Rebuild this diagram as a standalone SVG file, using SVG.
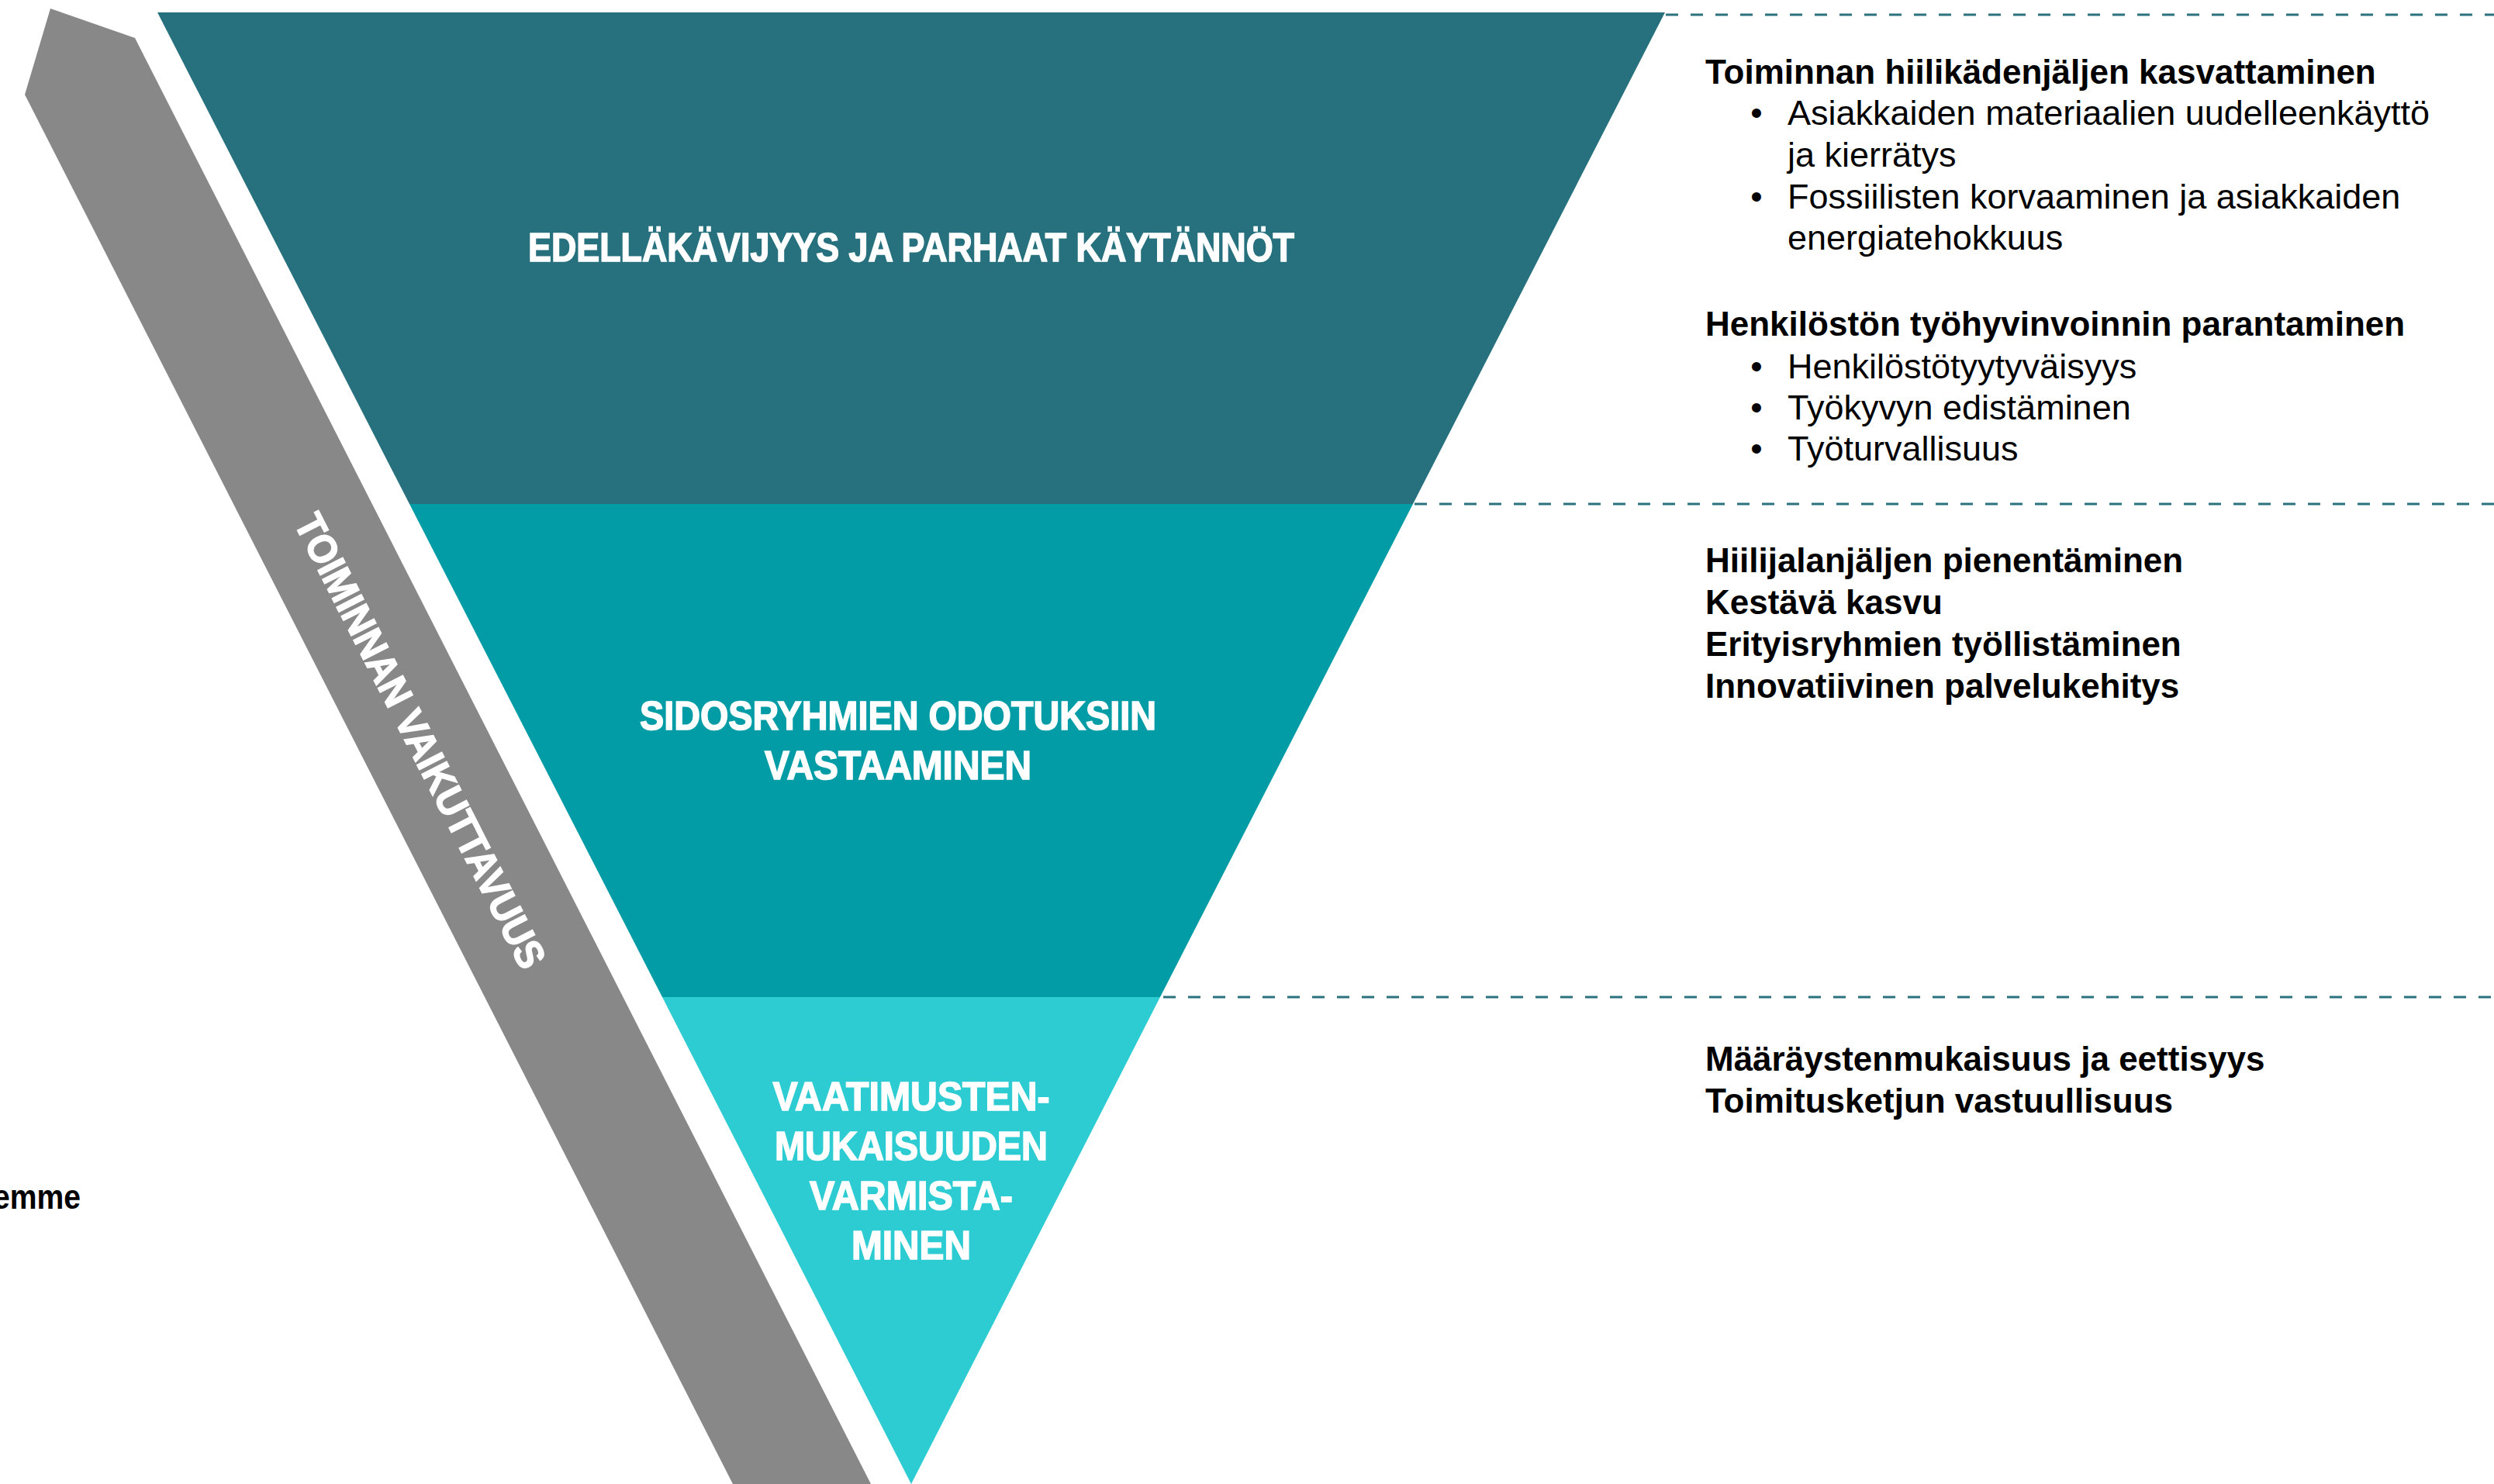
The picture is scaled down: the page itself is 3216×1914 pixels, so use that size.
<svg xmlns="http://www.w3.org/2000/svg" width="3216" height="1914" viewBox="0 0 3216 1914">
<style>
.lbl{font-family:"Liberation Sans",Arial,sans-serif;font-weight:bold;font-size:52px;fill:#ffffff;stroke:#ffffff;stroke-width:1.6;text-anchor:middle}
.hd{font-family:"Liberation Sans",Arial,sans-serif;font-weight:bold;font-size:44px;fill:#000000}
.it{font-family:"Liberation Sans",Arial,sans-serif;font-size:45px;fill:#000000}
.bul{font-family:"Liberation Sans",Arial,sans-serif;font-size:44px;fill:#000000;text-anchor:middle}
.sep{stroke:#2B727E;stroke-width:3;stroke-dasharray:16 16;fill:none}
</style>
<rect width="3216" height="1914" fill="#ffffff"/>
<g id="arrow">
<polygon points="65,11 174,49 1123,1914 945,1914 32,122" fill="#888888"/>
<text class="lbl" transform="translate(543,955) rotate(63)" x="0" y="19" font-size="54" textLength="650" lengthAdjust="spacingAndGlyphs">TOIMINNAN VAIKUTTAVUUS</text>
</g>
<g id="tier1">
<polygon points="203,16 2147,16 1822,650 528,650" fill="#27717E"/>
<text class="lbl" x="1175" y="337" textLength="988" lengthAdjust="spacingAndGlyphs">EDELLÄKÄVIJYYS JA PARHAAT KÄYTÄNNÖT</text>
</g>
<g id="tier2">
<polygon points="528,650 1822,650 1496,1286 854,1286" fill="#019CA6"/>
<text class="lbl" x="1158" y="941" textLength="666" lengthAdjust="spacingAndGlyphs">SIDOSRYHMIEN ODOTUKSIIN</text>
<text class="lbl" x="1158" y="1005" textLength="344" lengthAdjust="spacingAndGlyphs">VASTAAMINEN</text>
</g>
<g id="tier3">
<polygon points="854,1286 1496,1286 1175,1914" fill="#2DCCD3"/>
<text class="lbl" x="1175" y="1432" textLength="357" lengthAdjust="spacingAndGlyphs">VAATIMUSTEN-</text>
<text class="lbl" x="1175" y="1496" textLength="352" lengthAdjust="spacingAndGlyphs">MUKAISUUDEN</text>
<text class="lbl" x="1175" y="1560" textLength="262" lengthAdjust="spacingAndGlyphs">VARMISTA-</text>
<text class="lbl" x="1175" y="1624" textLength="154" lengthAdjust="spacingAndGlyphs">MINEN</text>
</g>
<g id="connectors">
<line class="sep" x1="2148" y1="19" x2="3216" y2="19"/>
<line class="sep" x1="1824" y1="650" x2="3216" y2="650"/>
<line class="sep" x1="1500" y1="1286" x2="3216" y2="1286"/>
</g>
<g id="notes1">
<text class="hd" x="2199" y="108">Toiminnan hiilikädenjäljen kasvattaminen</text>
<text class="bul" x="2265" y="161">•</text>
<text class="it" x="2305" y="161">Asiakkaiden materiaalien uudelleenkäyttö</text>
<text class="it" x="2305" y="215">ja kierrätys</text>
<text class="bul" x="2265" y="269">•</text>
<text class="it" x="2305" y="269">Fossiilisten korvaaminen ja asiakkaiden</text>
<text class="it" x="2305" y="322">energiatehokkuus</text>
<text class="hd" x="2199" y="433">Henkilöstön työhyvinvoinnin parantaminen</text>
<text class="bul" x="2265" y="488">•</text>
<text class="it" x="2305" y="488">Henkilöstötyytyväisyys</text>
<text class="bul" x="2265" y="541">•</text>
<text class="it" x="2305" y="541">Työkyvyn edistäminen</text>
<text class="bul" x="2265" y="594">•</text>
<text class="it" x="2305" y="594">Työturvallisuus</text>
</g>
<g id="notes2">
<text class="hd" x="2199" y="738">Hiilijalanjäljen pienentäminen</text>
<text class="hd" x="2199" y="792">Kestävä kasvu</text>
<text class="hd" x="2199" y="846">Erityisryhmien työllistäminen</text>
<text class="hd" x="2199" y="900">Innovatiivinen palvelukehitys</text>
</g>
<g id="notes3">
<text class="hd" x="2199" y="1381">Määräystenmukaisuus ja eettisyys</text>
<text class="hd" x="2199" y="1435">Toimitusketjun vastuullisuus</text>
</g>
<g id="side-label">
<text class="hd" x="-9" y="1559" font-size="46" textLength="113" lengthAdjust="spacingAndGlyphs">emme</text>
</g>
</svg>
